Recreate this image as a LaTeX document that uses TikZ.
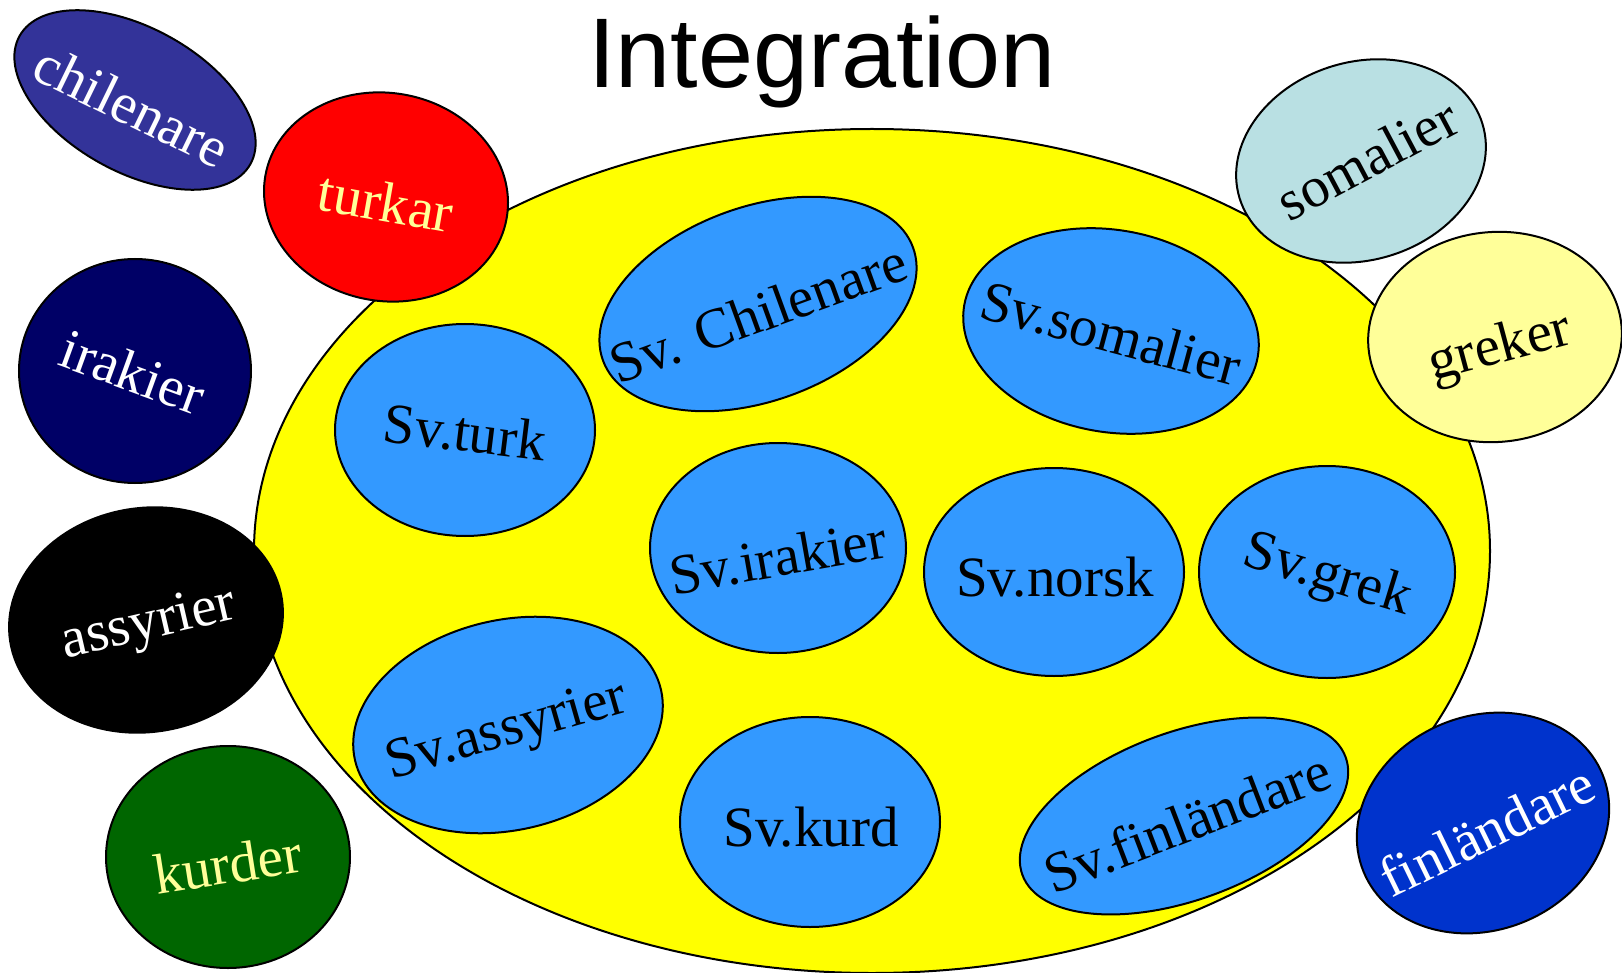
\documentclass[tikz,border=0pt]{standalone}
\usepackage{fontspec}
\setmainfont{Liberation Serif}
\newfontfamily\titlefont{Liberation Sans}
\usetikzlibrary{shapes.geometric}
\definecolor{yel}{HTML}{FFFF00}
\definecolor{inner}{HTML}{3399FF}
\definecolor{chileC}{HTML}{333399}
\definecolor{turkC}{HTML}{FF0000}
\definecolor{irakC}{HTML}{000066}
\definecolor{assyC}{HTML}{000000}
\definecolor{kurdC}{HTML}{006600}
\definecolor{somaC}{HTML}{B9E0E3}
\definecolor{grekC}{HTML}{FFFF99}
\definecolor{finC}{HTML}{0033CC}
\definecolor{paleY}{HTML}{FFFF99}
\begin{document}
\begin{tikzpicture}[x=1pt,y=-1pt,
  blob/.style={ellipse, draw=black, line width=2pt, inner sep=0pt, outer sep=0pt},
  lbl/.style={font=\fontsize{57}{60}\selectfont, inner sep=0pt}]
\useasboundingbox (0,0) rectangle (1622,973);
% title
\node[font=\titlefont\fontsize{99}{102}\selectfont, anchor=base, inner sep=0pt] (title) at (822,88) {Integration};
% big yellow ellipse
\node[blob, fill=yel, minimum width=1236, minimum height=844] (big) at (872,551) {};
% inner ellipses
\node[blob, fill=inner, rotate=20, minimum width=330, minimum height=194] (ichile) at (758,304) {};
\node[lbl, rotate=20] (ichilet) at (758,313) {Sv. Chilenare};
\node[blob, fill=inner, rotate=-10, minimum width=298, minimum height=202] (isoma) at (1111,331) {};
\node[lbl, rotate=-15] (isomat) at (1111,333) {Sv.somalier};
\node[blob, fill=inner, minimum width=260, minimum height=212] (iturk) at (465,430) {};
\node[lbl, rotate=-7] (iturkt) at (465,432) {Sv.turk};
\node[blob, fill=inner, minimum width=256, minimum height=210] (iirak) at (778,548) {};
\node[lbl, rotate=10] (iirakt) at (778,557) {Sv.irakier};
\node[blob, fill=inner, minimum width=260, minimum height=208] (inorsk) at (1054,572) {};
\node[lbl] (inorskt) at (1055,577) {Sv.norsk};
\node[blob, fill=inner, minimum width=256, minimum height=212] (igrek) at (1327,572) {};
\node[lbl, rotate=-17] (igrekt) at (1327,577) {Sv.grek};
\node[blob, fill=inner, rotate=13, minimum width=314, minimum height=210] (iassy) at (508,725) {};
\node[lbl, rotate=16] (iassyt) at (507,733) {Sv.assyrier};
\node[blob, fill=inner, minimum width=260, minimum height=210] (ikurd) at (810,822) {};
\node[lbl] (ikurdt) at (811,827) {Sv.kurd};
\node[blob, fill=inner, rotate=20, minimum width=344, minimum height=168] (ifin) at (1184,816) {};
\node[lbl, rotate=21] (ifint) at (1187,822) {Sv.finländare};
% outer ellipses
\node[blob, fill=chileC, rotate=-29, minimum width=264, minimum height=144] (chile) at (135,100) {};
\node[lbl, text=white, rotate=-26] (chilet) at (132,106) {chilenare};
\node[blob, fill=turkC, rotate=-10, minimum width=245, minimum height=208] (turk) at (386,197) {};
\node[lbl, text=paleY, rotate=-10] (turkt) at (386,202) {turkar};
\node[blob, fill=irakC, minimum width=232, minimum height=224] (irak) at (135,371) {};
\node[lbl, text=white, rotate=-20] (irakt) at (133,372) {irakier};
\node[blob, fill=assyC, rotate=9, minimum width=275, minimum height=224] (assy) at (146,620) {};
\node[lbl, text=white, rotate=13] (assyt) at (149,626) {assyrier};
\node[blob, fill=kurdC, minimum width=244, minimum height=222] (kurd) at (228,857) {};
\node[lbl, text=paleY, rotate=9] (kurdt) at (228,864) {kurder};
\node[blob, fill=somaC, rotate=17, minimum width=254, minimum height=198] (soma) at (1361,161) {};
\node[lbl, rotate=28] (somat) at (1367,159) {somalier};
\node[blob, fill=grekC, rotate=5, minimum width=254, minimum height=210] (grek) at (1495,337) {};
\node[lbl, rotate=15] (grekt) at (1500,349) {greker};
\node[blob, fill=finC, rotate=22, minimum width=258, minimum height=214] (fin) at (1483,823) {};
\node[lbl, text=white, rotate=26] (fint) at (1487,830) {finländare};
\end{tikzpicture}
\end{document}
